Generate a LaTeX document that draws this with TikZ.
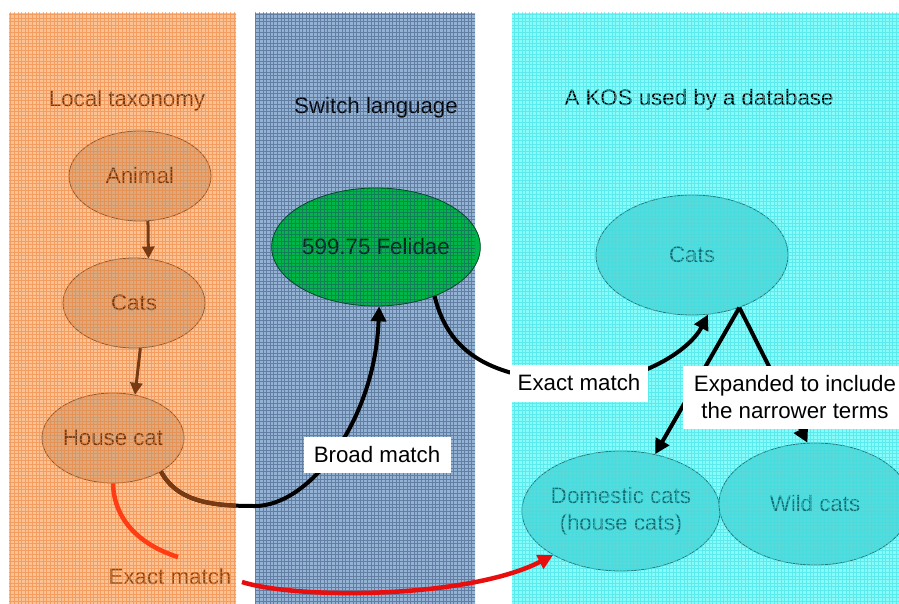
\documentclass[tikz,border=0pt]{standalone}
\usepackage{fontspec}
\setmainfont{Liberation Sans}
\usetikzlibrary{arrows.meta,shapes.geometric}
\pgfdeclarelayer{bg}
\pgfdeclarelayer{gridl}
\pgfdeclarelayer{conn}
\pgfdeclarelayer{fg}
\pgfsetlayers{bg,main,gridl,conn,fg}
\definecolor{obase}{RGB}{252,194,148}
\definecolor{ogrid}{RGB}{238,128,55}
\definecolor{bbase}{RGB}{148,178,212}
\definecolor{bgridc}{RGB}{38,64,102}
\definecolor{cbase}{RGB}{135,250,250}
\definecolor{cgrid}{RGB}{60,222,228}
\definecolor{tanfill}{RGB}{220,170,126}
\definecolor{tanedge}{RGB}{140,88,48}
\definecolor{browntxt}{RGB}{112,58,22}
\definecolor{brownarr}{RGB}{120,58,18}
\definecolor{felfill}{RGB}{0,182,74}
\definecolor{feledge}{RGB}{0,70,30}
\definecolor{feltxt}{RGB}{0,40,25}
\definecolor{kfill}{RGB}{88,218,218}
\definecolor{kedge}{RGB}{40,120,120}
\definecolor{ktxt}{RGB}{22,108,112}
\definecolor{redor}{RGB}{255,60,20}
\definecolor{redl}{RGB}{232,14,14}
\begin{document}
\begin{tikzpicture}[x=1pt,y=-1pt,
  font=\fontsize{22.3pt}{27pt}\selectfont,
  lellipse/.style={ellipse, draw=tanedge, fill=tanfill, text=browntxt, line width=0.8pt, minimum width=142pt, minimum height=90pt, inner sep=0pt},
  kellipse/.style={ellipse, draw=kedge, fill=kfill, text=ktxt, line width=0.8pt, minimum width=192pt, minimum height=120pt, inner sep=0pt, align=center},
  titletxt/.style={inner sep=0pt},
  whitelab/.style={fill=white, text=black, inner sep=0pt, align=center},
  brownarrow/.style={draw=brownarr, line width=3pt, -{Triangle[length=12pt,width=12pt]}},
  blackarrow/.style={draw=black, line width=4pt, -{Triangle[length=15pt,width=15pt]}},
  redarrow/.style={draw=redl, line width=4.5pt, -{Triangle[length=15pt,width=15pt]}}
]
\useasboundingbox (0,0) rectangle (899,604);

% ---------- panels ----------
\begin{pgfonlayer}{bg}
  \fill[white] (0,0) rectangle (899,604);
  \fill[obase] (9,13) rectangle (236,604);
  \fill[bbase] (255,13) rectangle (475,604);
  \fill[cbase] (512,13) rectangle (899,604);
\end{pgfonlayer}

\begin{pgfonlayer}{gridl}
  \begin{scope}
    \clip (9,13) rectangle (236,604);
    \draw[step=3.6pt, draw=ogrid, line width=0.7pt, opacity=0.55] (0,604) grid (240,0);
  \end{scope}
  \begin{scope}
    \clip (255,13) rectangle (475,604);
    \draw[step=3.6pt, draw=bgridc, line width=0.6pt, opacity=0.45] (250,604) grid (480,0);
  \end{scope}
  \begin{scope}
    \clip (512,13) rectangle (899,604);
    \draw[step=3.6pt, draw=cgrid, line width=0.7pt, opacity=0.55] (505,604) grid (899,0);
  \end{scope}
\end{pgfonlayer}

% ---------- titles ----------
\node[titletxt, text=browntxt] (t1) at (127,101) {Local taxonomy};
\node[titletxt, text=black] (t2) at (376,108) {Switch language};
\node[titletxt, text=black] (t3) at (699,100) {A KOS used by a database};

% ---------- ellipses ----------
\node[lellipse] (an) at (140,176) {Animal};
\node[lellipse] (ct) at (134,303) {Cats};
\node[lellipse] (hc) at (113,438) {House cat};
\node[ellipse, draw=feledge, fill=felfill, text=feltxt, line width=0.8pt, minimum width=186pt, minimum height=118pt, inner sep=0pt] (fel) at (376,247) {599.75 Felidae};
\node[kellipse] (kc) at (692,255) {Cats};
\node[kellipse] (dom) at (621,511) {Domestic cats\\(house cats)};
\node[kellipse, minimum height=122pt] (wild) at (815,504) {Wild cats};

% ---------- labels ----------
\begin{pgfonlayer}{fg}
  \node[whitelab, minimum width=147pt, minimum height=36pt] (broad) at (377,455) {Broad match};
  \node[whitelab, minimum width=138pt, minimum height=37pt] (exm) at (579,383) {Exact match};
  \node[whitelab, minimum width=224pt, minimum height=63pt] (expd) at (795,397) {Expanded to include\\the narrower terms};
\end{pgfonlayer}
\node[inner sep=0pt, text=browntxt!80!orange] (exl) at (170,577) {Exact match};
\coordinate (r1) at (178,557);
\coordinate (r2) at (242,582);
\coordinate (bb) at (255,506);

% ---------- connectors ----------
\begin{pgfonlayer}{conn}
\draw[brownarrow] (an.-80) -- (ct.72);
\draw[brownarrow] (ct.-82) -- (hc.63);

% broad match: black, tinted brown inside the orange panel
\draw[blackarrow] (hc.-35) .. controls (178,503) and (215,506) .. (bb)
   .. controls (310,506) and (375,420) .. (fel.-87);
\begin{scope}
  \clip (9,13) rectangle (236,604);
  \draw[draw=brownarr, line width=4.2pt] (hc.-35) .. controls (178,503) and (215,506) .. (bb);
\end{scope}

% exact match (middle)
\draw[blackarrow] (fel.-40) .. controls (450,360) and (500,378) .. (exm.center)
   .. controls (640,383) and (690,350) .. (kc.-75);

% expanded
\draw[blackarrow] (kc.-48) -- (dom.59);
\draw[blackarrow] (kc.-48) -- (wild.97);

% exact match (red)
\draw[draw=redor, line width=4.5pt] (hc.south) .. controls (114,520) and (140,545) .. (r1);
\draw[redarrow] (r2) .. controls (300,600) and (470,598) .. (dom.-147);
\end{pgfonlayer}

\end{tikzpicture}
\end{document}
